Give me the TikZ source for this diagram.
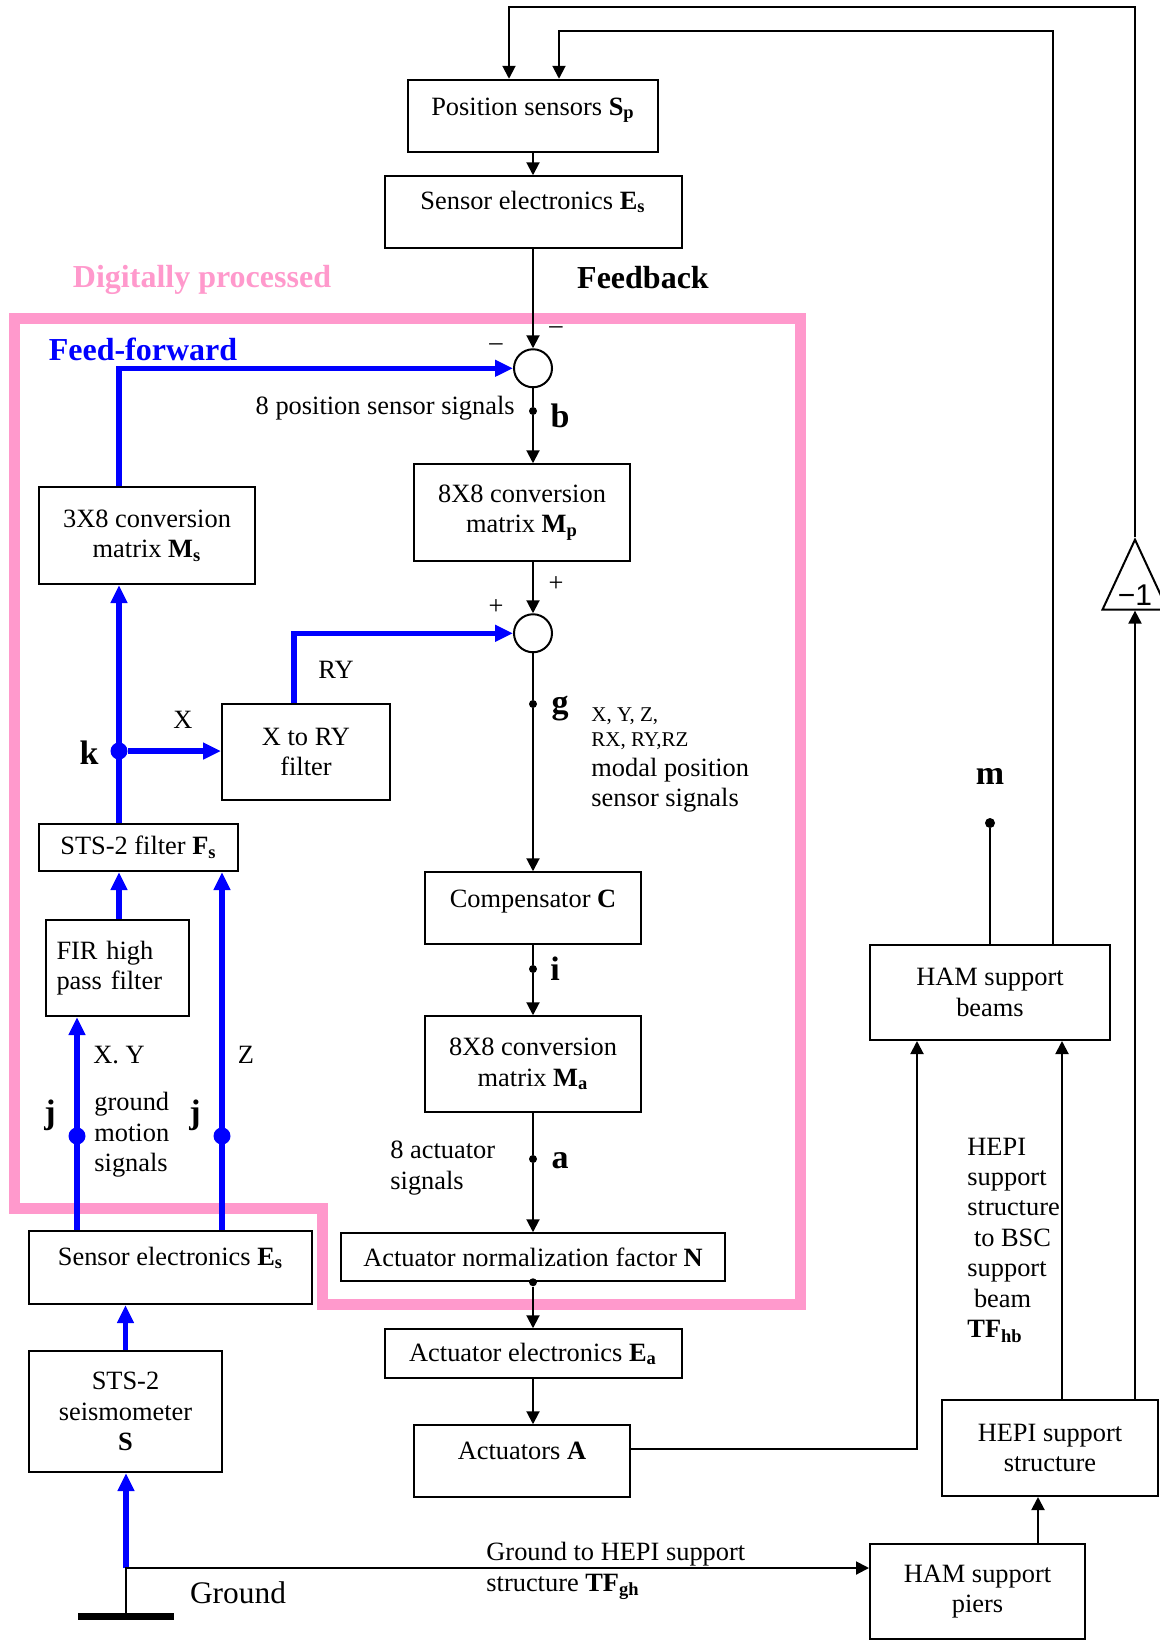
\documentclass[tikz,border=0pt]{standalone}
\usepackage{fontspec}
\setmainfont{Liberation Serif}
\newfontfamily\gainfont{Liberation Sans}
\usetikzlibrary{arrows.meta,positioning,calc,shapes.geometric}
\definecolor{cPink}{HTML}{FF99CC}
\definecolor{cFF}{HTML}{0000FF}

\newcommand{\diagfont}{\fontsize{13.2}{15.2}\selectfont}
\newcommand{\headfont}{\fontsize{16}{19}\selectfont\bfseries}
\newcommand{\sigfont}{\fontsize{17}{20}\selectfont\bfseries}
\newcommand{\smallnote}{\fontsize{10.5}{12.5}\selectfont}
% bold symbol with bold subscript
\newcommand{\bvec}[2]{\textbf{#1}\textsubscript{\textbf{#2}}}

\begin{document}
\begin{tikzpicture}[
  x=0.5pt, y=-0.5pt,
  font=\diagfont,
  box/.style={draw, line width=1pt, align=center, inner sep=2pt},
  lift/.style={text height=10pt, text depth=#1},
  sumnode/.style={draw, circle, line width=1pt, minimum size=19pt, inner sep=0pt},
  wire/.style={line width=1pt},
  arr/.style={wire, -{Triangle[length=6.5pt, width=6.5pt]}},
  ffarr/.style={-{Triangle[length=9pt, width=8pt]}, line width=2.7pt, cFF},
  tap/.style={circle, fill, inner sep=0pt, minimum size=4pt},
  fftap/.style={circle, fill=cFF, inner sep=0pt, minimum size=8.5pt},
  sig/.style={font=\sigfont, inner sep=0pt},
  note/.style={align=left, inner sep=0pt},
  sign/.style={inner sep=0pt},
]
\useasboundingbox (0,0) rectangle (1160,1640);

% ---------- digitally processed region ----------
\draw[cPink, line width=5.5pt] (14,318) -- (800,318) -- (800,1304) -- (322,1304)
  -- (322,1208) -- (14,1208) -- cycle;
\node[text=cPink, font=\headfont] (digital) at (202,280) {Digitally processed};
\node[font=\headfont] (fbhead) at (643,278) {Feedback};
\node[text=cFF, font=\headfont] (ffhead) at (143,349) {Feed-forward};

% ---------- feedback spine ----------
\node[box, lift=11pt, minimum width=125pt, minimum height=36.25pt] (possens) at (533,116)
  {Position sensors \bvec{S}{p}};
\node[box, lift=13pt, minimum width=148.5pt, minimum height=36pt, below=11pt of possens] (sensel)
  {Sensor electronics \bvec{E}{s}};
\node[sumnode, below=49.5pt of sensel] (sumtop) {};
\node[box, minimum width=108pt, minimum height=48.5pt, below=37.5pt of sumtop, xshift=-5.5pt] (convp)
  {8X8 conversion\\ matrix \bvec{M}{p}};
\node[sumnode, below=25.5pt of convp, xshift=5.5pt] (sumbot) {};
\node[box, lift=11pt, minimum width=108pt, minimum height=36pt, below=109pt of sumbot] (comp)
  {Compensator \textbf{C}};
\node[box, minimum width=108pt, minimum height=48pt, below=35pt of comp] (conva)
  {8X8 conversion\\ matrix \bvec{M}{a}};
\node[box, minimum width=192pt, minimum height=24pt, below=59.5pt of conva] (actnorm)
  {Actuator normalization factor \textbf{N}};
\node[box, minimum width=148.5pt, minimum height=24.5pt, below=23pt of actnorm] (acte)
  {Actuator electronics \bvec{E}{a}};
\node[box, lift=12pt, minimum width=108pt, minimum height=36pt, below=22.5pt of acte, xshift=-5.5pt] (actA)
  {Actuators \textbf{A}};

\node[sign] (mfb) at (556,330) {\textendash};
\node[sign] (mff) at (496,347) {\textendash};
\node[sign] (pfb) at (556,584) {+};
\node[sign] (pff) at (496,607) {+};

\node[tap] (tapb) at (533,411) {};
\node[tap] (tapg) at (533,704) {};
\node[tap] (tapi) at (533,969) {};
\node[tap] (tapa) at (533,1159) {};
\node[tap] (tapn) at (actnorm.south) {};
\node[sig] (lblb) at (560,416) {b};
\node[sig] (lblg) at (560,709) {g};
\node[sig] (lbli) at (555,969) {i};
\node[sig] (lbla) at (560,1161) {a};

\node[note, anchor=east] (possig) at (515,408) {8 position sensor signals};
\node[note, font=\smallnote, anchor=west] (modes) at (591,728.5) {X, Y, Z,\\RX, RY,RZ};
\node[note, anchor=west] (modal) at (591,785) {modal position\\sensor signals};
\node[note, anchor=west] (actsig) at (390,1168) {8 actuator\\signals};

\draw[arr] (possens) -- (sensel);
\draw[arr] (sensel) -- (sumtop);
\draw[wire] (sumtop) -- (tapb);
\draw[arr] (tapb) -- (tapb |- convp.north);
\draw[arr] (convp.south -| sumbot) -- (sumbot);
\draw[wire] (sumbot) -- (tapg);
\draw[arr] (tapg) -- (comp);
\draw[wire] (comp) -- (tapi);
\draw[arr] (tapi) -- (conva);
\draw[wire] (conva) -- (tapa);
\draw[arr] (tapa) -- (actnorm);
\draw[arr] (tapn) -- (acte);
\draw[arr] (acte) -- (acte |- actA.north);

% ---------- feed-forward path ----------
\node[box, minimum width=108pt, minimum height=48.5pt] (ms) at (147,535.5)
  {3X8 conversion\\ matrix \bvec{M}{s}};
\node[box, minimum width=84pt, minimum height=48pt] (xtory) at (306,752) {X to RY\\ filter};
\node[box, minimum width=99.5pt, minimum height=23.5pt] (stsf) at (138.5,847.5)
  {STS-2 filter \bvec{F}{s}};
\node[box, align=left, text width=61pt, minimum width=71.5pt, minimum height=48pt] (fir)
  at (117.5,968) {FIR high\\ pass filter};
\node[box, lift=12.5pt, minimum width=141.5pt, minimum height=36.5pt] (sensel2) at (170.5,1267.5)
  {Sensor electronics \bvec{E}{s}};
\node[box, minimum width=96.5pt, minimum height=60.5pt] (seis) at (125.5,1411.5)
  {STS-2\\ seismometer\\ \textbf{S}};

\node[fftap] (tapk) at (119,751) {};
\node[fftap] (tapj1) at (77,1136) {};
\node[fftap] (tapj2) at (222,1136) {};
\node[sig] (lblk) at (89,753) {k};
\node[sig] (lblj1) at (50,1115) {j};
\node[sig] (lblj2) at (195,1115) {j};

\node (rylbl) at (336,670) {RY};
\node (xlbl) at (183,720) {X};
\node (xylbl) at (119,1055) {X. Y};
\node (zlbl) at (246,1055) {Z};
\node[note, anchor=west] (gmsig) at (94,1135) {ground\\motion\\signals};

\draw[ffarr] (sensel2.north -| tapj1) -- (fir.south -| tapj1);
\draw[ffarr] (sensel2.north -| tapj2) -- (stsf.south -| tapj2);
\draw[ffarr] (fir.north -| tapk) -- (stsf.south -| tapk);
\draw[ffarr] (stsf.north -| tapk) -- (ms.south -| tapk);
\draw[ffarr] (tapk) -- (tapk -| xtory.west);
\draw[ffarr] (ms.north -| tapk) |- (sumtop);
\draw[ffarr] ($(xtory.north)+(-12,0)$) |- (sumbot);
\draw[ffarr] (seis) -- (seis |- sensel2.south);

% ---------- ground ----------
\coordinate (gnd) at (126,1616);
\coordinate (gcorner) at (126,1568);
\draw[line width=3.5pt] ($(gnd)+(-48,0)$) -- ($(gnd)+(48,0)$);
\node[font=\fontsize{15.7}{18}\selectfont] (gndlbl) at (238,1593) {Ground};
\node[note, anchor=west] (tfgh) at (486,1571) {Ground to HEPI support\\structure \bvec{TF}{gh}};
\draw[ffarr] (gcorner) -- (gcorner |- seis.south);

% ---------- plant ----------
\node[box, minimum width=120pt, minimum height=47.5pt] (beams) at (990,992.5) {HAM support\\ beams};
\node[box, minimum width=108pt, minimum height=48pt] (hepis) at (1050,1448) {HEPI support\\ structure};
\node[box, minimum width=107.5pt, minimum height=47.5pt] (piers) at (977.5,1591.5) {HAM support\\ piers};
\node[draw, line width=1pt, isosceles triangle, shape border rotate=90, isosceles triangle stretches,
      minimum height=35pt, minimum width=32.5pt, inner sep=0pt, anchor=apex] (gain) at (1135,537) {};
\node[font=\gainfont\fontsize{15}{17}\selectfont, anchor=south, inner sep=2.4pt] (gainlbl)
  at (gain.south) {−1};
\node[tap, minimum size=5pt] (tapm) at (990,823) {};
\node[sig] (lblm) at (990,776) {m};
\node[note, anchor=west] (tfhb) at (967,1240)
  {HEPI\\support\\structure\\\ to BSC\\support\\\ beam\\\bvec{TF}{hb}};

\draw[arr] (gnd) -- (gcorner) -- (gcorner -| piers.west);
\draw[arr] ($(piers.north)+(60.5,0)$) -- ($(hepis.south)+(-12,0)$);
\draw[arr] ($(hepis.north)+(12,0)$) -- ($(beams.south)+(72,0)$);
\draw[arr] ($(hepis.north)+(85,0)$) -- (gain.south);
\draw[arr] ($(actA.east)+(0,-12)$) -| ($(beams.south west)+(48,0)$);
\draw[wire] (beams.north) -- (tapm);
\draw[arr] (gain.apex) |- ($(possens.north)+(-24,-71.5)$) -- ($(possens.north)+(-24,0)$);
\draw[arr] ($(beams.north)+(63,0)$) |- ($(possens.north)+(26,-47.5)$) -- ($(possens.north)+(26,0)$);

\end{tikzpicture}
\end{document}
